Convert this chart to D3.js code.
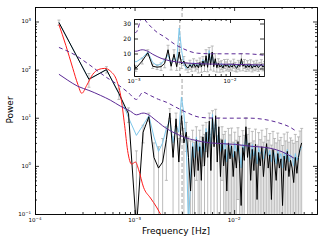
<!DOCTYPE html>
<html>
<head>
<meta charset="utf-8">
<script src="https://cdn.jsdelivr.net/npm/d3@7"></script>
<style>
body { margin: 0; background: #fff; }
svg { display: block; font-family: "DejaVu Sans", sans-serif; }
.axis path, .axis line { stroke: #000; stroke-width: 0.8; fill: none; }
</style>
</head>
<body>
<script>
// periodogram frequencies (mHz)
var freqMHz = [0.174, 0.348, 0.522, 0.696, 0.87, 1.044, 1.218, 1.392, 1.566, 1.74,
    1.914, 2.088, 2.262, 2.436, 2.61, 2.784, 2.958, 3.132, 3.306, 3.48,
    3.654, 3.828, 4.002, 4.176, 4.35,
    4.514, 4.683, 4.859, 5.041, 5.231, 5.427, 5.631, 5.842, 6.062, 6.289,
    6.526, 6.771, 7.025, 7.289, 7.562, 7.846, 8.141, 8.447, 8.764, 9.093,
    9.43, 9.784, 10.15, 10.53, 10.93, 11.34, 11.76, 12.21, 12.66, 13.14,
    13.63, 14.14, 14.67, 15.22, 15.79, 16.39, 17.0, 17.64, 18.3, 18.99,
    19.7, 20.44, 21.21, 22.0, 22.83, 23.69, 24.57, 25.5, 26.45, 27.45,
    28.48, 29.55, 30.66, 31.81, 33.0, 34.24, 35.52, 36.86, 38.24, 39.67,
    41.17, 42.71, 44.31, 45.98, 47.7];

// power (black)
var power = [950, 63, 100, 32, 12, 0.05, 5, 10.5, 1.5, 0.9,
    1.2, 3.5, 12.5, 1.5, 9.5, 1.2, 11, 3, 5, 1.5,
    0.3, 2.5, 0.6, 3.5, 0.8,
    2.5, 0.5, 4.0, 1.0, 5.0, 1.5, 8.5, 0.8, 10, 2.5,
    11, 1.2, 6.5, 0.6, 3.5, 1.0, 2.2, 0.3, 3.0, 1.4,
    2.6, 0.6, 2.0, 0.9, 3.2, 1.1, 0.15, 2.4, 1.3, 6.5,
    1.5, 3.0, 0.5, 2.2, 0.8, 2.8, 0.2, 1.9, 1.0, 2.5,
    0.6, 1.6, 2.9, 0.9, 1.7, 0.2, 2.2, 1.2, 0.5, 1.8,
    0.9, 1.4, 0.15, 1.6, 0.8, 2.0, 0.6, 1.3, 0.9, 0.45,
    1.5, 0.7, 1.5, 2.3, 3.0];

// second periodogram (light blue)
var powerAlt = [950, 63, 100, 32, 10, 4.3, 7, 11, 4, 2,
    3, 6, 9, 3, 7, 5, 27, 12, 3, 0.05,
    0.6, 3, 1.5, 4, 2,
    3, 1.5, 3.5, 2, 6, 3, 7, 2.5, 12, 4,
    9, 3, 5, 2, 3, 2.2, 3.5, 1.2, 2.5, 2.8,
    1.8, 1.5, 3, 2, 2.6, 1.9, 0.9, 2.8, 2, 4.5,
    2.5, 2.2, 1.4, 2.8, 1.6, 2.2, 1.1, 2.4, 1.8, 2,
    1.4, 2.2, 2.5, 1.6, 2.1, 1.2, 2, 1.8, 1.1, 2.1,
    1.5, 1.8, 0.9, 1.9, 1.4, 2.2, 1.2, 1.7, 1.5, 1.0,
    1.8, 1.3, 1.6, 2.1, 2.5];

// error on power (gray bars)
var powerErr = [120, 20, 15, 8, 4, 2, 2, 2, 1.5, 1.6,
    2.5, 3, 3, 2.5, 3, 2.5, 3.5, 3, 3, 2.5,
    3, 3, 2.5, 3, 2.5,
    3, 3.5, 3, 3.5, 3, 3.5, 4, 3, 4, 3.5,
    4, 3, 3.5, 3, 3, 3.5, 3, 2.5, 3, 3,
    3.5, 2.5, 3, 2.5, 3, 3, 2.5, 3, 3, 3.5,
    3, 3, 2.5, 3, 2.5, 3, 2.5, 3, 2.5, 3,
    2.5, 2.5, 3, 2.5, 3, 2.5, 3, 2.5, 2.5, 3,
    2.5, 2.5, 2.5, 3, 2.5, 3, 2.5, 2.5, 2.5, 2.5,
    3, 2.5, 2.5, 3, 3];

// red curve
var redF = [1.738e-4, 2.042e-4, 2.399e-4, 2.692e-4, 2.951e-4, 3.311e-4, 3.802e-4,
    4.365e-4, 5.012e-4, 5.754e-4, 6.607e-4, 7.244e-4, 7.943e-4, 8.511e-4, 9.333e-4,
    1.023e-3, 1.096e-3, 1.230e-3, 1.445e-3, 1.660e-3, 1.862e-3];
var redP = [867, 318, 106, 49.5, 32.2, 47.2, 79.7, 101, 106, 92, 59.9, 29.3, 7.0,
    2.1, 1.09, 1.2, 0.85, 0.36, 0.215, 0.14, 0.091];

// noise model (purple solid)
var modelF = [1.74e-4, 2.138e-4, 2.692e-4, 3.48e-4, 4.571e-4, 5.754e-4, 7.244e-4,
    9.12e-4, 1.044e-3, 1.218e-3, 1.392e-3, 1.566e-3, 1.74e-3, 1.914e-3, 2.088e-3,
    2.436e-3, 2.784e-3, 3.306e-3, 3.828e-3, 5.75e-3, 1.023e-2, 1.445e-2, 2.29e-2,
    3.09e-2, 3.98e-2];
var modelP = [80, 60, 45, 37, 29, 23, 17.3, 13.6, 11.5, 12.5, 11.5, 9.5, 8, 6.8, 6,
    5, 4.4, 3.8, 3.5, 3.0, 2.8, 2.57, 2.33, 1.93, 1.45];

// confidence level (purple dashed)
var confF = [1.74e-4, 2.57e-4, 3.48e-4, 5.22e-4, 6.96e-4, 8.7e-4, 1.044e-3, 1.218e-3,
    1.392e-3, 1.74e-3, 2.088e-3, 2.61e-3, 3.306e-3, 4.57e-3, 6.76e-3, 1.023e-2,
    1.445e-2, 1.95e-2, 2.884e-2, 3.63e-2, 4.07e-2];
var confP = [289, 197, 128, 69, 47, 33, 24, 34, 30, 24.1, 21, 16.5, 13, 10.2, 9.8, 9.8,
    9.8, 9.3, 7.7, 6.4, 5.5];

var qpoFreq = 3.0e-3;

// ticks
var mainXTicks = [1e-4, 1e-3, 1e-2];
var mainYTicks = [0.1, 1, 10, 100, 1000];
var insetXTicks = [1e-3, 1e-2];
var insetYTicks = [0, 10, 20, 30];

var W = 325, H = 245;

var x = d3.scaleLog().domain([1e-4, 0.068]).range([35, 317]);
var y = d3.scaleLog().domain([0.1, 2000]).range([214, 7]);
var xi = d3.scaleLog().domain([1e-3, 0.0226]).range([134, 264]);
var yi = d3.scaleLinear().domain([-5, 33]).range([76, 19]);

var pts = freqMHz.map(function (v, i) {
    return { f: v / 1000, p: power[i], b: powerAlt[i], e: powerErr[i] };
});
var red = redF.map(function (f, i) { return { f: f, p: redP[i] }; });
var model = modelF.map(function (f, i) { return { f: f, p: modelP[i] }; });
var conf = confF.map(function (f, i) { return { f: f, p: confP[i] }; });

var svg = d3.select("body").append("svg")
    .attr("width", W)
    .attr("height", H);

var defs = svg.append("defs");
function clip(id, xs, ys) {
    defs.append("clipPath").attr("id", id)
        .append("rect")
        .attr("x", xs.range()[0]).attr("y", ys.range()[1])
        .attr("width", xs.range()[1] - xs.range()[0])
        .attr("height", ys.range()[0] - ys.range()[1]);
}
clip("clipMain", x, y);
clip("clipInset", xi, yi);

// draw bars + lines of one panel
function panel(xs, ys, isLog, clipId, showRed) {
    var g = svg.append("g").attr("clip-path", "url(#" + clipId + ")");
    var yBottom = ys.range()[0] + 10;
    var lo = function (d) {
        var v = d.p - d.e;
        return (isLog && v <= 0) ? yBottom : ys(v);
    };

    g.append("rect")
        .attr("x", xs.range()[0]).attr("y", ys.range()[1])
        .attr("width", xs.range()[1] - xs.range()[0])
        .attr("height", ys.range()[0] - ys.range()[1])
        .attr("fill", "#fff");

    // error bars
    var eb = g.append("g").attr("stroke", "#acacac").attr("stroke-width", 0.8);
    eb.selectAll(".bar").data(pts).enter().append("line")
        .attr("x1", function (d) { return xs(d.f); })
        .attr("x2", function (d) { return xs(d.f); })
        .attr("y1", function (d) { return ys(d.p + d.e); })
        .attr("y2", lo);
    eb.selectAll(".capT").data(pts).enter().append("line")
        .attr("x1", function (d) { return xs(d.f) - 1.5; })
        .attr("x2", function (d) { return xs(d.f) + 1.5; })
        .attr("y1", function (d) { return ys(d.p + d.e); })
        .attr("y2", function (d) { return ys(d.p + d.e); });
    eb.selectAll(".capB").data(pts.filter(function (d) { return !isLog || d.p - d.e > 0; }))
        .enter().append("line")
        .attr("x1", function (d) { return xs(d.f) - 1.5; })
        .attr("x2", function (d) { return xs(d.f) + 1.5; })
        .attr("y1", lo)
        .attr("y2", lo);

    // qpo marker
    g.append("line")
        .attr("x1", xs(qpoFreq)).attr("x2", xs(qpoFreq))
        .attr("y1", ys.range()[1]).attr("y2", ys.range()[0])
        .attr("stroke", "#9a9a9a").attr("stroke-width", 0.9)
        .attr("stroke-dasharray", "4,2");

    var lineB = d3.line().x(function (d) { return xs(d.f); }).y(function (d) { return ys(d.b); });
    var lineP = d3.line().x(function (d) { return xs(d.f); }).y(function (d) { return ys(d.p); });
    var smooth = d3.line().x(function (d) { return xs(d.f); }).y(function (d) { return ys(d.p); })
        .curve(d3.curveMonotoneX);

    g.append("path").attr("d", lineB(pts))
        .attr("fill", "none").attr("stroke", "#7cc6ea").attr("stroke-width", 1);
    g.append("path").attr("d", lineP(pts))
        .attr("fill", "none").attr("stroke", "#000").attr("stroke-width", 1);
    if (showRed) {
        g.append("path").attr("d", smooth(red))
            .attr("fill", "none").attr("stroke", "#ff1a1a").attr("stroke-width", 1);
    }
    g.append("path").attr("d", smooth(model))
        .attr("fill", "none").attr("stroke", "#5c2a96").attr("stroke-width", 1);
    g.append("path").attr("d", smooth(conf))
        .attr("fill", "none").attr("stroke", "#5c2a96").attr("stroke-width", 1)
        .attr("stroke-dasharray", "4,3");
}

// ticks on all four sides, pointing inward
function frame(xs, ys, xMajor, yMajor, xMinor, yMinor) {
    var x0 = xs.range()[0], x1 = xs.range()[1], y0 = ys.range()[0], y1 = ys.range()[1];
    var sides = [
        [d3.axisBottom(xs), 0, y0, xMajor, xMinor],
        [d3.axisTop(xs), 0, y1, xMajor, xMinor],
        [d3.axisLeft(ys), x0, 0, yMajor, yMinor],
        [d3.axisRight(ys), x1, 0, yMajor, yMinor]
    ];
    sides.forEach(function (s) {
        svg.append("g").attr("class", "axis")
            .attr("transform", "translate(" + s[1] + "," + s[2] + ")")
            .call(s[0].tickValues(s[3]).tickSize(-4).tickSizeOuter(0).tickFormat(""));
        if (s[4].length) {
            svg.append("g").attr("class", "axis")
                .attr("transform", "translate(" + s[1] + "," + s[2] + ")")
                .call(s[0].tickValues(s[4]).tickSize(-2).tickSizeOuter(0).tickFormat(""));
        }
    });
}

function pow10(sel, v, size) {
    var e = Math.round(Math.log10(v));
    sel.append("tspan").text("10");
    sel.append("tspan").attr("dy", -size * 0.45).style("font-size", (size * 0.72) + "px")
        .text(e < 0 ? "\u2212" + (-e) : "" + e);
}

function notMajor(major) {
    return function (v) {
        return !major.some(function (m) { return Math.abs(v / m - 1) < 1e-6; });
    };
}

// main panel
panel(x, y, true, "clipMain", true);
frame(x, y, mainXTicks, mainYTicks,
    x.ticks().filter(notMajor(mainXTicks)),
    y.ticks().filter(notMajor(mainYTicks)));

mainXTicks.forEach(function (v) {
    svg.append("text")
        .attr("x", x(v)).attr("y", 222)
        .attr("text-anchor", "middle")
        .style("font-size", "5.5px")
        .call(pow10, v, 5.5);
});
mainYTicks.forEach(function (v) {
    svg.append("text")
        .attr("x", 31).attr("y", y(v) + 2)
        .attr("text-anchor", "end")
        .style("font-size", "5.5px")
        .call(pow10, v, 5.5);
});

svg.append("text")
    .attr("x", 176).attr("y", 234)
    .attr("text-anchor", "middle")
    .style("font-size", "9px")
    .text("Frequency [Hz]");
svg.append("text")
    .attr("transform", "translate(13,110) rotate(-90)")
    .attr("text-anchor", "middle")
    .style("font-size", "9px")
    .text("Power");

// inset
panel(xi, yi, false, "clipInset", false);
frame(xi, yi, insetXTicks, insetYTicks,
    xi.ticks().filter(notMajor(insetXTicks)), []);

insetXTicks.forEach(function (v) {
    svg.append("text")
        .attr("x", xi(v)).attr("y", 83)
        .attr("text-anchor", "middle")
        .style("font-size", "5.5px")
        .call(pow10, v, 5.5);
});
insetYTicks.forEach(function (v) {
    svg.append("text")
        .attr("x", 131).attr("y", yi(v) + 2.2)
        .attr("text-anchor", "end")
        .style("font-size", "6px")
        .text(v);
});
</script>
</body>
</html>
